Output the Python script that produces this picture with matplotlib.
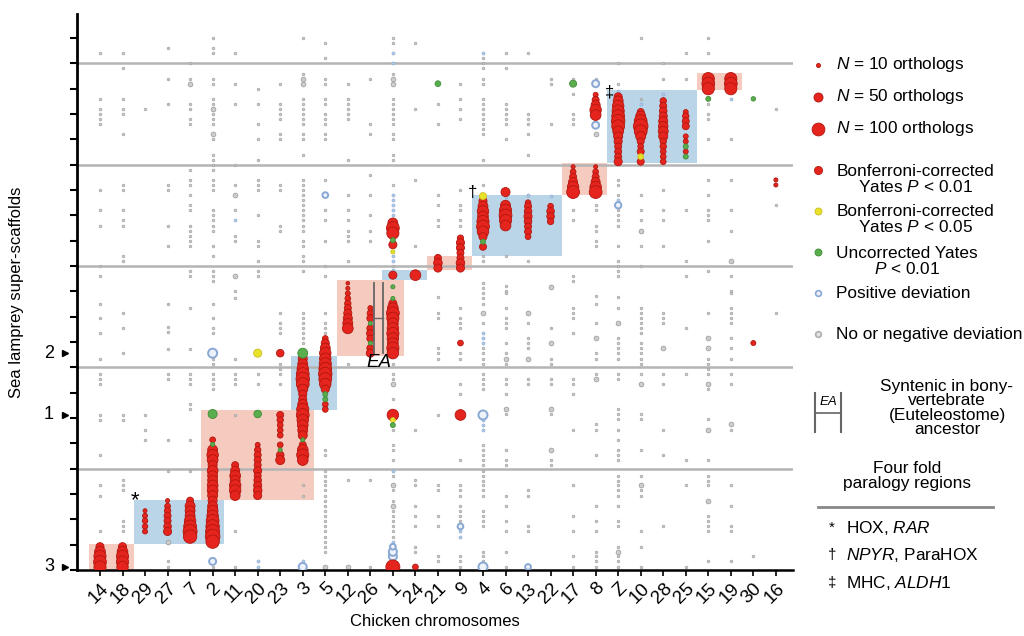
import numpy as np
import matplotlib
matplotlib.use("Agg")
import matplotlib.pyplot as plt
from matplotlib.patches import Rectangle

plt.rcParams['font.family'] = ['Liberation Sans', 'DejaVu Sans']
plt.rcParams['mathtext.fontset'] = 'custom'
plt.rcParams['mathtext.it'] = 'Liberation Sans:italic'
plt.rcParams['mathtext.rm'] = 'Liberation Sans'

# chicken chromosomes along x
chroms = ['14', '18', '29', '27', '7', '2', '11', '20', '23', '3', '5', '12', '26', '1', '24',
          '21', '9', '4', '6', '13', '22', '17', '8', 'Z', '10', '28', '25', '15', '19', '30', '16']

# conserved blocks: first chrom, last chrom, row from, row to, colour
blocks = [('14', '18', 0.0, 5.1, 'pink'), ('29', '2', 5.1, 13.9, 'blue'),
          ('2', '3', 13.9, 31.6, 'pink'), ('3', '5', 31.6, 42.2, 'blue'),
          ('12', '1', 42.2, 57.2, 'pink'), ('1', '24', 57.2, 59.2, 'blue'),
          ('21', '9', 59.2, 62.0, 'pink'), ('4', '22', 62.0, 74.0, 'blue'),
          ('17', '8', 74.0, 80.3, 'pink'), ('Z', '25', 80.3, 94.7, 'blue'),
          ('15', '19', 94.7, 98.1, 'pink')]

# significant dots (chrom, row, number of orthologs)
red_dots = [
    ('14', 0.6, 90), ('14', 1.6, 100), ('14', 2.7, 90), ('14', 3.6, 70), ('14', 4.6, 40),
    ('18', 0.6, 80), ('18', 1.6, 90), ('18', 2.7, 90), ('18', 3.6, 70), ('18', 4.6, 40),
    ('29', 7.6, 15), ('29', 8.6, 18), ('29', 9.7, 18), ('29', 10.7, 15), ('29', 11.7, 10),
    ('27', 7.6, 40), ('27', 8.6, 35), ('27', 9.7, 30), ('27', 10.7, 30), ('27', 11.7, 25),
    ('27', 12.6, 20), ('27', 13.7, 10),
    ('7', 6.6, 110), ('7', 7.6, 120), ('7', 8.6, 100), ('7', 9.7, 80), ('7', 10.7, 60),
    ('7', 11.7, 60), ('7', 12.6, 60), ('7', 13.7, 30),
    ('2', 5.6, 110), ('2', 6.6, 130), ('2', 7.6, 120), ('2', 8.6, 110), ('2', 9.7, 100),
    ('2', 10.7, 80), ('2', 11.7, 70), ('2', 12.6, 60), ('2', 13.7, 50), ('2', 14.7, 60),
    ('2', 15.7, 70), ('2', 16.7, 70), ('2', 17.7, 60), ('2', 18.6, 60), ('2', 19.6, 70),
    ('2', 20.7, 50), ('2', 21.7, 70), ('2', 22.7, 80), ('2', 23.7, 60), ('2', 25.7, 20),
    ('11', 14.7, 60), ('11', 15.7, 80), ('11', 16.7, 80), ('11', 17.7, 60), ('11', 18.6, 70),
    ('11', 19.6, 50), ('11', 20.7, 30),
    ('20', 14.7, 40), ('20', 15.7, 45), ('20', 16.7, 40), ('20', 17.7, 35), ('20', 18.6, 30),
    ('20', 19.6, 40), ('20', 20.7, 30), ('20', 21.7, 30), ('20', 22.7, 30), ('20', 23.7, 25),
    ('20', 24.7, 15),
    ('23', 21.7, 50), ('23', 22.7, 35), ('23', 24.7, 20), ('23', 26.6, 20), ('23', 27.6, 20),
    ('23', 28.6, 20), ('23', 29.6, 25), ('23', 30.6, 30), ('23', 42.8, 35),
    ('3', 21.7, 70), ('3', 22.7, 90), ('3', 23.7, 70), ('3', 24.7, 30), ('3', 26.6, 50),
    ('3', 27.6, 60), ('3', 28.6, 70), ('3', 29.6, 80), ('3', 30.6, 100), ('3', 31.7, 90),
    ('3', 32.7, 60), ('3', 33.7, 40), ('3', 34.7, 40), ('3', 35.7, 60), ('3', 36.7, 100),
    ('3', 37.7, 110), ('3', 38.7, 100), ('3', 39.7, 80), ('3', 40.7, 60), ('3', 41.7, 50),
    ('5', 31.7, 20), ('5', 32.7, 20), ('5', 35.7, 40), ('5', 36.7, 80), ('5', 37.7, 100),
    ('5', 38.7, 110), ('5', 39.7, 100), ('5', 40.7, 90), ('5', 41.7, 80), ('5', 42.8, 80),
    ('5', 43.8, 60), ('5', 44.8, 40), ('5', 45.7, 20),
    ('12', 47.7, 70), ('12', 48.7, 60), ('12', 49.7, 50), ('12', 50.7, 40), ('12', 51.7, 30),
    ('12', 52.6, 25), ('12', 53.6, 20), ('12', 54.6, 15), ('12', 55.6, 10), ('12', 56.6, 8),
    ('26', 42.8, 40), ('26', 43.8, 30), ('26', 45.7, 30), ('26', 46.7, 35), ('26', 47.7, 30),
    ('26', 49.7, 30), ('26', 50.7, 25), ('26', 51.7, 15),
    ('1', 0.6, 120), ('1', 30.6, 80), ('1', 42.8, 80), ('1', 43.8, 90), ('1', 44.8, 70),
    ('1', 45.7, 80), ('1', 46.7, 90), ('1', 47.7, 80), ('1', 48.7, 70), ('1', 49.7, 90),
    ('1', 50.7, 100), ('1', 51.7, 70), ('1', 52.6, 40), ('1', 58.2, 40), ('1', 64.2, 40),
    ('1', 66.5, 90), ('1', 67.5, 100), ('1', 68.5, 60),
    ('24', 0.6, 20), ('24', 58.2, 70),
    ('21', 59.6, 40), ('21', 60.6, 45), ('21', 61.6, 30),
    ('9', 30.6, 70), ('9', 44.8, 20), ('9', 59.6, 40), ('9', 60.6, 45), ('9', 61.6, 30),
    ('9', 62.6, 30), ('9', 63.6, 40), ('9', 64.6, 40), ('9', 65.5, 25),
    ('4', 63.8, 30), ('4', 65.8, 40), ('4', 66.8, 80), ('4', 67.8, 100), ('4', 68.8, 90),
    ('4', 69.8, 70), ('4', 70.8, 80), ('4', 71.8, 60), ('4', 72.8, 40),
    ('6', 68.0, 70), ('6', 69.0, 90), ('6', 70.0, 100), ('6', 71.0, 90), ('6', 72.0, 60),
    ('6', 74.6, 50),
    ('13', 65.8, 20), ('13', 66.8, 30), ('13', 67.8, 30), ('13', 68.8, 35), ('13', 69.8, 40),
    ('13', 70.8, 35), ('13', 71.8, 30), ('13', 72.5, 20),
    ('22', 68.8, 25), ('22', 69.8, 35), ('22', 70.8, 35), ('22', 71.8, 20),
    ('17', 74.6, 100), ('17', 75.6, 80), ('17', 76.6, 50), ('17', 77.6, 30), ('17', 78.6, 20),
    ('17', 79.6, 10),
    ('8', 74.6, 100), ('8', 75.6, 80), ('8', 76.6, 50), ('8', 77.6, 30), ('8', 78.6, 20),
    ('8', 79.6, 10), ('8', 89.8, 70), ('8', 90.8, 80), ('8', 91.8, 50), ('8', 92.8, 30),
    ('8', 93.8, 15),
    ('Z', 80.6, 40), ('Z', 81.6, 30), ('Z', 82.6, 30), ('Z', 83.6, 30), ('Z', 84.6, 40),
    ('Z', 85.6, 50), ('Z', 86.6, 70), ('Z', 87.6, 100), ('Z', 88.6, 110), ('Z', 89.6, 100),
    ('Z', 90.6, 90), ('Z', 91.6, 80), ('Z', 92.6, 60), ('Z', 93.4, 40),
    ('10', 80.6, 30), ('10', 82.6, 30), ('10', 83.6, 20), ('10', 84.6, 30), ('10', 85.6, 60),
    ('10', 86.6, 100), ('10', 87.6, 130), ('10', 88.6, 100), ('10', 89.6, 60), ('10', 90.4, 30),
    ('28', 80.6, 20), ('28', 81.6, 20), ('28', 82.6, 20), ('28', 83.6, 25), ('28', 84.6, 25),
    ('28', 85.6, 50), ('28', 86.6, 60), ('28', 87.6, 55), ('28', 88.6, 50), ('28', 89.6, 40),
    ('28', 90.6, 35), ('28', 91.6, 30), ('28', 92.6, 25),
    ('25', 82.6, 15), ('25', 84.6, 15), ('25', 85.6, 15), ('25', 87.6, 30), ('25', 88.6, 30),
    ('25', 89.6, 25), ('25', 90.4, 15),
    ('15', 95.0, 90), ('15', 96.0, 100), ('15', 97.0, 90),
    ('19', 95.0, 90), ('19', 96.0, 100), ('19', 97.0, 90),
    ('30', 44.8, 15), ('16', 76.0, 10), ('16', 77.0, 10),
]
yellow_dots = [('20', 42.8, 40), ('1', 29.6, 15), ('1', 62.8, 10), ('4', 73.8, 30),
               ('10', 81.6, 20)]
green_dots = [('2', 30.8, 50), ('2', 24.8, 10), ('20', 30.8, 35), ('23', 23.7, 10),
              ('3', 25.7, 10), ('3', 42.8, 60), ('5', 33.7, 15), ('5', 34.7, 15),
              ('26', 44.8, 10), ('26', 48.7, 10), ('1', 28.6, 15), ('1', 53.6, 10),
              ('1', 55.9, 10), ('1', 65.1, 15), ('4', 64.8, 15), ('17', 96.0, 30),
              ('21', 96.0, 20), ('25', 81.6, 15), ('25', 83.6, 15), ('15', 93.0, 15),
              ('30', 93.0, 12)]
blue_open = [('2', 42.8, 50), ('2', 1.7, 30), ('3', 0.6, 40), ('1', 2.7, 40), ('1', 3.6, 40),
             ('1', 4.6, 20), ('4', 30.6, 50), ('4', 0.6, 50), ('8', 87.8, 30), ('8', 96.0, 30),
             ('13', 0.6, 20), ('9', 8.6, 20), ('Z', 72.0, 25), ('5', 74.0, 20)]
blue_small = [('1', 102), ('1', 100), ('1', 74), ('1', 73), ('1', 72), ('1', 71), ('1', 70),
              ('1', 69), ('1', 62), ('1', 61), ('1', 59.2), ('1', 19.6), ('1', 5.6), ('1', 1.7),
              ('4', 102), ('4', 46.7), ('4', 45.7), ('4', 44.8), ('4', 29.6), ('4', 28.6),
              ('4', 27.6), ('20', 1.7), ('20', 0.6), ('Z', 73), ('Z', 94.6), ('10', 92),
              ('28', 94), ('19', 93), ('6', 73.6), ('13', 74), ('22', 73.8), ('9', 7.6),
              ('9', 6.6), ('3', 1.7), ('11', 69)]

# small grey dots, one list of rows per chromosome (same order as chroms)
grey_rows = [
    [102, 93, 91, 90, 89, 88, 75, 71, 68, 60, 58, 52.6, 49.7, 46.7, 41.7, 38.7, 37.7, 36.7,
     30.6, 29.6, 22.7, 16.7, 14.7, 7.6],
    [102, 99, 93, 91, 90, 86, 76, 75, 71, 69, 68, 62, 61, 50.7, 47.7, 42.8, 30.6, 29.6, 17.7,
     16.7, 15.7, 9.7, 8.6, 7.6],
    [91, 30.6, 27.6, 25.7],
    [103, 97, 92, 76, 75, 68, 64, 52.6, 48, 47, 43.6, 38.7, 37.7, 25.7, 19.6, 5.6, 1.7, 0.6],
    [100, 97, 96, 92, 91, 89, 88, 79, 77, 76, 74, 72, 71, 68, 67, 66, 65, 64, 59, 58, 51.7,
     43.6, 38.7, 37.7, 36.7, 32.7, 31.7, 25.7, 19.6],
    [105, 103, 102, 97, 96, 93, 92, 91, 90, 89, 88, 86, 85, 82, 81, 80, 79, 77, 76, 75, 71,
     70, 69, 68, 67, 64, 62, 59, 58, 57, 52.6, 49.7, 47.7, 46.7, 41.7, 40.7, 38.7, 37.7,
     36.7, 35.7, 0.6],
    [102, 96, 92, 80, 76, 74, 71, 66, 65, 58, 55, 53.6, 41.7, 38.7, 37.7, 36.7, 30.6, 7.6,
     0.6],
    [95, 92, 88, 85, 81, 77, 76, 75, 70, 65, 64, 61, 59, 58, 38.7, 36.7],
    [96, 92, 91, 90, 89, 86, 85, 76, 75, 68, 67, 50.7, 48.7, 47.7, 46.7, 40.7, 39.7, 38.7,
     36.7],
    [105, 98, 97, 96, 93, 92, 91, 90, 89, 88, 86, 85, 82, 77, 76, 75, 74, 73, 72, 71, 70, 69,
     68, 67, 65, 64, 62, 61, 59, 50.7, 49.7, 48.7, 47.7, 46.7, 45.7, 44.8, 16.7, 14.7],
    [104, 101, 97, 96, 93, 92, 90, 89, 88, 86, 85, 77, 71, 69, 65, 60, 58, 50.7, 48.7, 47.7,
     46.7, 23.7, 22.7, 19.6, 18.6, 17.6, 16.7, 15.7, 14.7, 13.7, 12.6, 11.7, 10.7, 9.7, 8.6,
     7.6, 6.6, 5.6, 4.6, 3.6, 0.6],
    [96, 93, 92, 91, 90, 89, 81, 74, 71, 69, 67, 66, 65, 61, 40.7, 17.7],
    [97, 88, 86, 78, 74, 70, 67, 65, 17.7, 0.6],
    [105, 104, 98, 97, 96, 93, 92, 91, 90, 89, 88, 86, 85, 82, 81, 76, 60, 40.7, 38.7, 37.7,
     36.7, 33.7, 27.6, 24.7, 23.7, 21.7, 18.6, 16.7, 15.7, 13.7, 12.6, 11.7, 10.7, 9.7, 8.6,
     7.6, 6.6],
    [104, 91, 77, 64, 27.6, 17.7, 16.7, 12.6, 10.7, 8.6, 4.6, 3.6],
    [92, 88, 74, 72, 69, 68, 53.8, 50.7, 49.7, 43.8, 42.8, 41.7, 30.6, 16.7, 15.7, 10.7, 8.6,
     2.7, 1.7],
    [96, 93, 91, 89, 75, 72, 71, 69, 68, 51.7, 49.7, 48.7, 47.7, 42.8, 41.7, 36.7, 34.7, 21.7,
     16.7, 15.7, 14.7, 12.6, 11.7, 10.7, 9.7, 2.7, 1.7, 0.6],
    [101, 100, 99, 97, 96, 93, 92, 91, 90, 89, 88, 87, 86, 81, 76, 62, 61, 56.6, 55.6, 54.6,
     53.6, 52.6, 50.7, 48.7, 43.8, 42.8, 41.7, 40.7, 38.7, 37.7, 36.7, 35.7, 24.7, 23.7, 22.7,
     21.7, 20.7, 19.6, 18.6, 17.6, 16.7, 15.7, 14.7, 11.7, 10.7, 9.7, 8.6, 3.6, 2.7, 1.7],
    [102, 99, 92, 91, 90, 89, 88, 85, 62, 56, 55, 54.6, 51.7, 49.7, 48.7, 47.7, 44.8, 42.8,
     41.7, 40.7, 37.7, 36.7, 34.7, 31.7, 30.7, 23.7, 21.7, 20.7, 14.7, 12.6, 9.7, 7.6, 3.6,
     0.6],
    [102, 90, 89, 88, 86, 82, 74, 72, 61, 50.7, 48.7, 45.7, 44.8, 43.8, 41.7, 37.7, 36.7,
     15.7, 14.7, 8.6, 7.6],
    [97, 96, 88, 56, 55.8, 47.7, 44.8, 41.7, 40.7, 37.7, 36.7, 31.7, 30.7, 23.7, 21.7, 20.7],
    [97, 94, 90, 89, 88, 71, 69, 58, 57, 51.7, 50.7, 49.7, 46.7, 37.7, 36.7, 34.7, 27.6, 16.7,
     10.7, 7.6, 2.7, 0.6],
    [97, 94, 86, 72, 71, 68, 67, 65, 64, 54, 52.6, 48.7, 45.7, 42.8, 41.7, 38.7, 37.7, 28.8,
     27.6, 22.7, 12.6, 9.7, 7.6, 3.6, 2.7, 1.7, 0.6],
    [100, 96, 77, 76, 74, 71, 70, 69, 68, 64, 61, 60, 59, 58, 53.8, 51.7, 48.7, 45.7, 44.8,
     43.8, 42.8, 41.7, 38.7, 37.7, 31.7, 30.7, 29.8, 27.6, 25.7, 23.7, 22.7, 21.7, 18.6, 17.6,
     16.7, 15.7, 14.7, 12.6, 9.7, 8.6, 4.6, 3.6, 2.7, 1.7, 0.6],
    [105, 93, 74, 71, 69, 67, 64, 60, 51.7, 50.7, 49.7, 48.7, 47.7, 46.7, 44.8, 43.8, 42.8,
     41.7, 40.7, 38.7, 36.7, 30.7, 29.8, 23.7, 18.6, 16.7, 15.7, 14.7, 7.6, 4.6, 0.6],
    [100, 97, 75, 71, 69, 64, 50.7, 49.7, 48.7, 43.8, 38.7, 36.7, 27.6, 22.7, 8.6],
    [102, 97, 71, 61, 58, 47.7, 38.7, 21.7, 16.7, 0.6],
    [105, 102, 92, 90, 89, 85, 77, 74, 71, 70, 69, 65, 59, 50.7, 45.7, 43.8, 41.7, 40.7, 39.7,
     38.7, 36.7, 35.7, 29.8, 27.6, 21.7, 18.6, 17.6, 16.7, 13.7, 10.7, 9.7, 8.6, 7.6, 1.7],
    [85, 77, 71, 67, 61, 58, 55, 54.6, 51.7, 50.7, 49.7, 48.7, 45.7, 43.8, 41.7, 38.7, 36.7,
     28.8, 27.6, 16.7, 12.6, 8.6, 7.6, 1.7],
    [2.7],
    [91, 72, 50.7],
]
# somewhat larger grey dots
grey_big = [('11', 74), ('11', 58), ('3', 96), ('3', 97), ('2', 91), ('2', 86), ('7', 96),
            ('1', 97), ('1', 96), ('1', 36.7), ('1', 16.7), ('1', 12.6), ('4', 50.7),
            ('6', 41.7), ('6', 31.7), ('13', 50.7), ('13', 41.7), ('22', 55.8), ('22', 44.8),
            ('22', 31.7), ('22', 23.7), ('8', 45.7), ('8', 37.7), ('8', 86), ('Z', 48.7),
            ('Z', 3.6), ('10', 36.7), ('10', 16.7), ('10', 67), ('28', 43.8), ('15', 45.7),
            ('15', 43.8), ('15', 36.7), ('15', 27.6), ('15', 13.7), ('19', 28.8), ('19', 61),
            ('5', 0.6), ('12', 0.6), ('27', 5.6)]

# paralogy marks
para_marks = [('*', 1.55, 13.6, 16), ('\u2020', 16.55, 74.6, 12), ('\u2021', 22.6, 94.4, 12)]


def size(n):
    # marker area grows with the number of orthologs
    return 0.85 * n


xi = {c: i for i, c in enumerate(chroms)}

fig = plt.figure(figsize=(10.24, 6.36), dpi=100)
ax = fig.add_axes([77 / 1024, 66 / 636, 716 / 1024, 556 / 636])
ax.set_xlim(-1.02, 30.76)
ax.set_ylim(0, 109.75)

block_col = {'pink': '#f5cbbf', 'blue': '#b9d5e7'}
for a, b, lo, hi, kind in blocks:
    ax.add_patch(Rectangle((xi[a] - 0.5, lo), xi[b] - xi[a] + 1, hi - lo,
                           facecolor=block_col[kind], edgecolor='none', zorder=0))

for r in [20, 40, 60, 80, 100]:
    ax.axhline(r, color='#b4b4b4', lw=1.8, zorder=1)

gx, gy = [], []
for i, rows in enumerate(grey_rows):
    gx += [i] * len(rows)
    gy += rows
ax.scatter(gx, gy, s=4, c='#c6c6c6', edgecolors='#9c9c9c', linewidths=0.4, zorder=2)
ax.scatter([xi[c] for c, r in grey_big], [r for c, r in grey_big], s=12,
           c='#cdcdcd', edgecolors='#989898', linewidths=0.5, zorder=2)
ax.scatter([xi[c] for c, r in blue_small], [r for c, r in blue_small], s=5,
           c='#b3cbe8', edgecolors='#88a6d0', linewidths=0.4, zorder=2)
ax.scatter([xi[c] for c, r, n in blue_open], [r for c, r, n in blue_open],
           s=[size(n) for c, r, n in blue_open], c='#eef3fa', edgecolors='#8aa8d4',
           linewidths=1.4, zorder=3)


def draw(dots, face, edge):
    dots = sorted(dots, key=lambda d: d[1], reverse=True)
    ax.scatter([xi[c] for c, r, n in dots], [r for c, r, n in dots],
               s=[size(n) for c, r, n in dots], c=face, edgecolors=edge, linewidths=0.6,
               zorder=4)


draw(red_dots, '#e5251d', '#b0160f')
draw(yellow_dots, '#e9e22a', '#c9bd1c')
draw(green_dots, '#5aae4e', '#3f8c36')

# EA bracket
ax.plot([12.16, 12.16], [42.8, 56.7], color='#666666', lw=1.3, zorder=5)
ax.plot([12.56, 12.56], [42.8, 56.7], color='#666666', lw=1.3, zorder=5)
ax.plot([12.2, 12.56], [49.7, 49.7], color='#666666', lw=1.0, zorder=5)
ax.text(12.4, 40.9, 'EA', style='italic', fontsize=13.5, ha='center', va='center', zorder=6)

for sym, x, y, f in para_marks:
    ax.text(x, y, sym, fontsize=f, ha='center', va='center', zorder=6)

# axes styling
for s in ['top', 'right']:
    ax.spines[s].set_visible(False)
ax.spines['left'].set_linewidth(2)
ax.spines['bottom'].set_linewidth(1.8)
ax.set_yticks(np.arange(0, 106, 5))
ax.set_yticklabels([])
ax.tick_params(axis='y', length=5, width=1.5)
ax.set_xticks(range(len(chroms)))
ax.set_xticklabels(chroms, rotation=45, ha='right', va='top', rotation_mode='anchor',
                   fontsize=13.5)
ax.tick_params(axis='x', length=4, width=1.2, pad=3)
ax.set_xlabel('Chicken chromosomes', fontsize=12, labelpad=5)
ax.set_ylabel('Sea lamprey super-scaffolds', fontsize=12, labelpad=30)

trans = ax.get_yaxis_transform()
for lab, r in [('2', 42.8), ('1', 30.6), ('3', 0.6)]:
    ax.text(-0.032, r, lab, transform=trans, fontsize=13, ha='right', va='center')
    ax.plot([-0.017], [r], marker='>', color='black', markersize=4, transform=trans,
            clip_on=False)

# legend drawn in pixel coordinates
lax = fig.add_axes([0, 0, 1, 1])
lax.set_xlim(0, 1024)
lax.set_ylim(636, 0)
lax.axis('off')
lax.patch.set_alpha(0)

fs = 12.4
for n, y in [(10, 65), (50, 97), (100, 129)]:
    lax.scatter([818], [y], s=size(n), c='#e5251d', edgecolors='#b0160f', linewidths=0.6)
    lax.text(836, y, f'$\\it{{N}}$ = {n} orthologs', fontsize=fs, va='center')
lax.scatter([818], [170], s=size(40), c='#e5251d', edgecolors='#b0160f', linewidths=0.6)
lax.text(915, 179, 'Bonferroni-corrected\nYates $\\it{P}$ < 0.01', fontsize=fs,
         ha='center', va='center', linespacing=1.0)
lax.scatter([818], [211], s=size(30), c='#e9e22a', edgecolors='#c9bd1c', linewidths=0.6)
lax.text(915, 220, 'Bonferroni-corrected\nYates $\\it{P}$ < 0.05', fontsize=fs,
         ha='center', va='center', linespacing=1.0)
lax.scatter([818], [252], s=size(30), c='#5aae4e', edgecolors='#3f8c36', linewidths=0.6)
lax.text(907, 261, 'Uncorrected Yates\n$\\it{P}$ < 0.01', fontsize=fs,
         ha='center', va='center', linespacing=1.0)
lax.scatter([818], [293], s=size(20), c='#eef3fa', edgecolors='#8aa8d4', linewidths=1.2)
lax.text(836, 293, 'Positive deviation', fontsize=fs, va='center')
lax.scatter([818], [334], s=size(20), c='#e2e2e2', edgecolors='#b0b0b0', linewidths=1.2)
lax.text(836, 334, 'No or negative deviation', fontsize=fs, va='center')

lax.plot([815, 815], [393, 432], color='#666666', lw=1.5)
lax.plot([841, 841], [393, 432], color='#666666', lw=1.5)
lax.plot([815, 841], [413, 413], color='#666666', lw=1.2)
lax.text(828, 402, 'EA', style='italic', fontsize=9.5, ha='center', va='center')
lax.text(947, 408, 'Syntenic in bony-\nvertebrate\n(Euteleostome)\nancestor', fontsize=fs,
         ha='center', va='center', linespacing=0.95)
lax.text(907, 476, 'Four fold\nparalogy regions', fontsize=fs, ha='center', va='center',
         linespacing=0.95)
lax.plot([818, 993], [507, 507], color='#888888', lw=2)
for sym, txt, y in [('*', 'HOX, $\\it{RAR}$', 528),
                    ('\u2020', '$\\it{NPYR}$, ParaHOX', 555),
                    ('\u2021', 'MHC, $\\it{ALDH1}$', 583)]:
    lax.text(832, y, sym, fontsize=11, ha='center', va='center')
    lax.text(846, y, txt, fontsize=fs, va='center')

fig.savefig('out.png', dpi=100)
